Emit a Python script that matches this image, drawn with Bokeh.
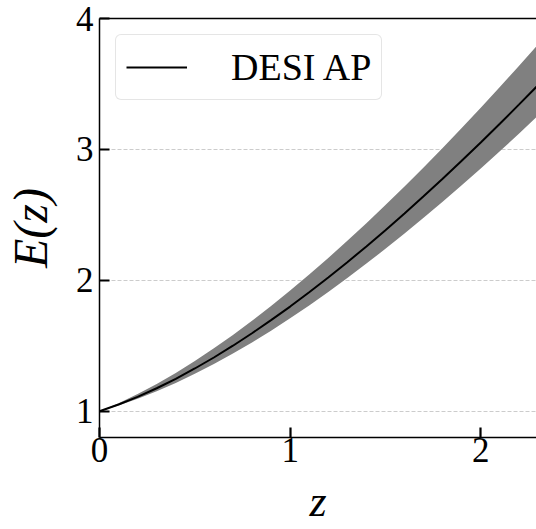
from bokeh.plotting import figure
from bokeh.models import LinearAxis, Range1d, FixedTicker, Legend, LegendItem
from bokeh.embed import file_html
from bokeh.resources import INLINE

# data
z = [0.0, 0.1, 0.2, 0.3, 0.4, 0.5, 0.6, 0.7, 0.8, 0.9, 1.0, 1.1,
     1.2, 1.3, 1.4, 1.5, 1.6, 1.7, 1.8, 1.9, 2.0, 2.1, 2.2, 2.3]
E_mid = [1.000, 1.052, 1.110, 1.176, 1.248, 1.327, 1.411, 1.501, 1.596, 1.696,
         1.800, 1.909, 2.022, 2.139, 2.259, 2.383, 2.511, 2.642, 2.776, 2.913,
         3.053, 3.196, 3.342, 3.490]
E_hi = [1.000, 1.062, 1.132, 1.209, 1.293, 1.384, 1.481, 1.583, 1.691, 1.804,
        1.922, 2.045, 2.171, 2.302, 2.437, 2.575, 2.717, 2.862, 3.011, 3.163,
        3.318, 3.476, 3.637, 3.801]
E_lo = [1.000, 1.045, 1.096, 1.153, 1.216, 1.286, 1.361, 1.441, 1.526, 1.616,
        1.710, 1.809, 1.911, 2.018, 2.128, 2.241, 2.358, 2.478, 2.600, 2.726,
        2.855, 2.986, 3.120, 3.257]
x_ticks = [0, 1, 2]
y_ticks = [1, 2, 3, 4]
grid_ticks = [1, 2, 3]
series_label = "DESI AP"
x_label = "z"
y_label = "E(z)"

FONT = "Liberation Serif"

p = figure(width=536, height=529,
           x_range=Range1d(0, 2.2924), y_range=Range1d(0.8, 4.0),
           output_backend="svg", toolbar_location=None,
           min_border_left=97, min_border_right=0,
           min_border_top=18, min_border_bottom=92)
p.outline_line_color = None
p.background_fill_color = "white"

band = p.varea(x=z, y1=E_lo, y2=E_hi, fill_color="#808080", fill_alpha=1.0)
line = p.line(z, E_mid, line_color="black", line_width=2)

# axes
for ax in (p.xaxis[0], p.yaxis[0]):
    ax.major_tick_in = 10
    ax.major_tick_out = 0
    ax.minor_tick_in = 0
    ax.minor_tick_out = 0
    ax.major_tick_line_width = 2.2
    ax.major_tick_line_color = "black"
    ax.axis_line_width = 1.5
    ax.axis_line_color = "black"
    ax.major_label_text_font = FONT
    ax.major_label_text_font_size = "35px"
    ax.major_label_text_color = "black"
    ax.axis_label_text_font = FONT
    ax.axis_label_text_font_style = "italic"
    ax.axis_label_text_color = "black"

p.xaxis[0].ticker = FixedTicker(ticks=x_ticks)
p.yaxis[0].ticker = FixedTicker(ticks=y_ticks)
p.xaxis[0].axis_label = x_label
p.yaxis[0].axis_label = y_label
p.xaxis[0].axis_label_text_font_size = "44px"
p.yaxis[0].axis_label_text_font_size = "48px"
p.xaxis[0].major_label_standoff = 0
p.yaxis[0].major_label_standoff = 6
p.xaxis[0].axis_label_standoff = 12
p.yaxis[0].axis_label_standoff = 16

top = LinearAxis(ticker=FixedTicker(ticks=[]), axis_line_color="black",
                 axis_line_width=1.5, major_tick_in=0, major_tick_out=0,
                 minor_tick_in=0, minor_tick_out=0,
                 major_label_text_font_size="0px")
p.add_layout(top, "above")

# grid
p.xgrid.visible = False
p.ygrid.ticker = FixedTicker(ticks=grid_ticks)
p.ygrid.grid_line_color = "#cccccc"
p.ygrid.grid_line_dash = "4 2"
p.ygrid.grid_line_width = 1

legend = Legend(items=[LegendItem(label=series_label, renderers=[line])],
                location="top_left", margin=16, padding=10,
                glyph_width=61, glyph_height=36, label_standoff=44,
                label_text_font=FONT, label_text_font_size="38px",
                label_text_color="black", label_height=36,
                border_line_color="#cccccc", border_line_width=1.2,
                border_radius=6, background_fill_alpha=0.85)
p.add_layout(legend, "center")

open("out.html", "w").write(file_html(p, INLINE))
